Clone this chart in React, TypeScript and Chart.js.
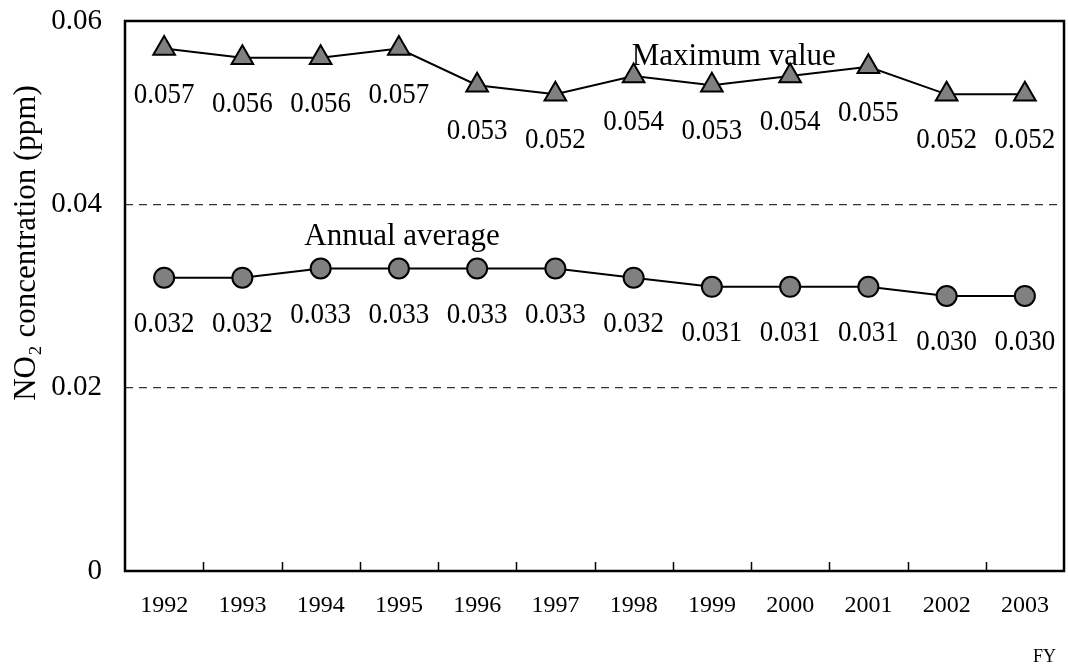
import React, { useEffect, useRef } from "react";
import { Chart, registerables } from "chart.js";

Chart.register(...registerables);

// Fiscal years on the category axis
const years = ["1992", "1993", "1994", "1995", "1996", "1997", "1998", "1999", "2000", "2001", "2002", "2003"];

// NO2 concentration (ppm)
const maximumValue = [0.057, 0.056, 0.056, 0.057, 0.053, 0.052, 0.054, 0.053, 0.054, 0.055, 0.052, 0.052];
const annualAverage = [0.032, 0.032, 0.033, 0.033, 0.033, 0.033, 0.032, 0.031, 0.031, 0.031, 0.030, 0.030];

// Value-axis ticks
const yTicks = [0, 0.02, 0.04, 0.06];

// Series captions, anchored in data space (category index, value)
const seriesCaptions = [
  { text: "Maximum value", index: 7.28, value: 0.0552 },
  { text: "Annual average", index: 3.04, value: 0.03556 },
];

const SERIF = "'Liberation Serif', 'Times New Roman', serif";
const WIDTH = 1068;
const HEIGHT = 666;

const decorations = {
  id: "decorations",
  beforeDatasetsDraw(chart: any) {
    const { ctx, chartArea, scales } = chart;
    const x = scales.x;
    ctx.save();
    // plot frame
    ctx.strokeStyle = "#000";
    ctx.lineWidth = 2.5;
    ctx.strokeRect(chartArea.left, chartArea.top, chartArea.right - chartArea.left, chartArea.bottom - chartArea.top);
    // inward tick marks between categories
    ctx.lineWidth = 1.5;
    for (let i = 1; i < years.length; i++) {
      const px = Math.round((x.getPixelForTick(i - 1) + x.getPixelForTick(i)) / 2) + 0.5;
      ctx.beginPath();
      ctx.moveTo(px, chartArea.bottom);
      ctx.lineTo(px, chartArea.bottom - 9);
      ctx.stroke();
    }
    ctx.restore();
  },
  afterDatasetsDraw(chart: any) {
    const { ctx, chartArea, scales } = chart;
    ctx.save();
    ctx.fillStyle = "#000";
    // value labels under each marker (slightly tall digits)
    ctx.font = `27px ${SERIF}`;
    ctx.textAlign = "center";
    ctx.textBaseline = "alphabetic";
    chart.data.datasets.forEach((ds: any, di: number) => {
      const meta = chart.getDatasetMeta(di);
      meta.data.forEach((pt: any, i: number) => {
        ctx.save();
        ctx.translate(pt.x, pt.y + 44);
        ctx.scale(1, 1.12);
        ctx.fillText(ds.data[i].toFixed(3), 0, 9);
        ctx.restore();
      });
    });
    // series captions
    ctx.font = `31px ${SERIF}`;
    seriesCaptions.forEach((c) => {
      ctx.fillText(c.text, scales.x.getPixelForValue(c.index), scales.y.getPixelForValue(c.value));
    });
    // value-axis title
    ctx.save();
    ctx.translate(27, 243);
    ctx.rotate(-Math.PI / 2);
    ctx.textBaseline = "middle";
    ctx.fillText("NO\u2082 concentration (ppm)", 0, 0);
    ctx.restore();
    // category-axis unit
    ctx.font = `18px ${SERIF}`;
    ctx.textAlign = "right";
    ctx.fillText("FY", chartArea.right - 8, chartArea.bottom + 91);
    ctx.restore();
  },
};

export default function App() {
  const canvasRef = useRef<HTMLCanvasElement | null>(null);

  useEffect(() => {
    if (!canvasRef.current) return;
    const chart = new Chart(canvasRef.current, {
      type: "line",
      data: {
        labels: years,
        datasets: [
          {
            label: "Maximum value",
            data: maximumValue,
            borderColor: "#000",
            borderWidth: 2,
            tension: 0,
            pointStyle: "triangle",
            pointRadius: 12.5,
            pointBackgroundColor: "#808080",
            pointBorderColor: "#000",
            pointBorderWidth: 2,
          },
          {
            label: "Annual average",
            data: annualAverage,
            borderColor: "#000",
            borderWidth: 2,
            tension: 0,
            pointStyle: "circle",
            pointRadius: 10,
            pointBackgroundColor: "#808080",
            pointBorderColor: "#000",
            pointBorderWidth: 2,
          },
        ],
      },
      options: {
        animation: false,
        responsive: false,
        devicePixelRatio: 1,
        layout: { autoPadding: false, padding: { left: 0, top: 21, right: 4, bottom: 0 } },
        plugins: { legend: { display: false }, tooltip: { enabled: false } },
        scales: {
          x: {
            type: "category",
            offset: true,
            grid: { display: false, drawTicks: false },
            border: { display: false },
            ticks: {
              autoSkip: false,
              maxRotation: 0,
              padding: 20,
              color: "#000",
              font: { family: SERIF, size: 24 },
            },
            afterFit(scale: any) {
              scale.height = 95;
              scale.paddingLeft = 0;
              scale.paddingRight = 0;
            },
          },
          y: {
            min: 0,
            max: 0.06,
            afterBuildTicks(scale: any) {
              scale.ticks = yTicks.map((v) => ({ value: v }));
            },
            grid: {
              drawTicks: false,
              lineWidth: 1.3,
              color: (c: any) =>
                c.tick && c.tick.value > 0 && c.tick.value < 0.06 ? "#333" : "rgba(0,0,0,0)",
            },
            border: { display: false, dash: [8, 6] },
            ticks: {
              padding: 23,
              color: "#000",
              font: { family: SERIF, size: 29 },
              callback: (v: any) => (v === 0 ? "0" : Number(v).toFixed(2)),
            },
            afterFit(scale: any) {
              scale.width = 125;
              scale.paddingTop = 0;
              scale.paddingBottom = 0;
            },
          },
        },
      },
      plugins: [decorations],
    });
    return () => chart.destroy();
  }, []);

  return (
    <div style={{ position: "absolute", left: 0, top: 0, width: WIDTH, height: HEIGHT, background: "#fff" }}>
      <canvas ref={canvasRef} width={WIDTH} height={HEIGHT} style={{ display: "block" }} />
    </div>
  );
}
